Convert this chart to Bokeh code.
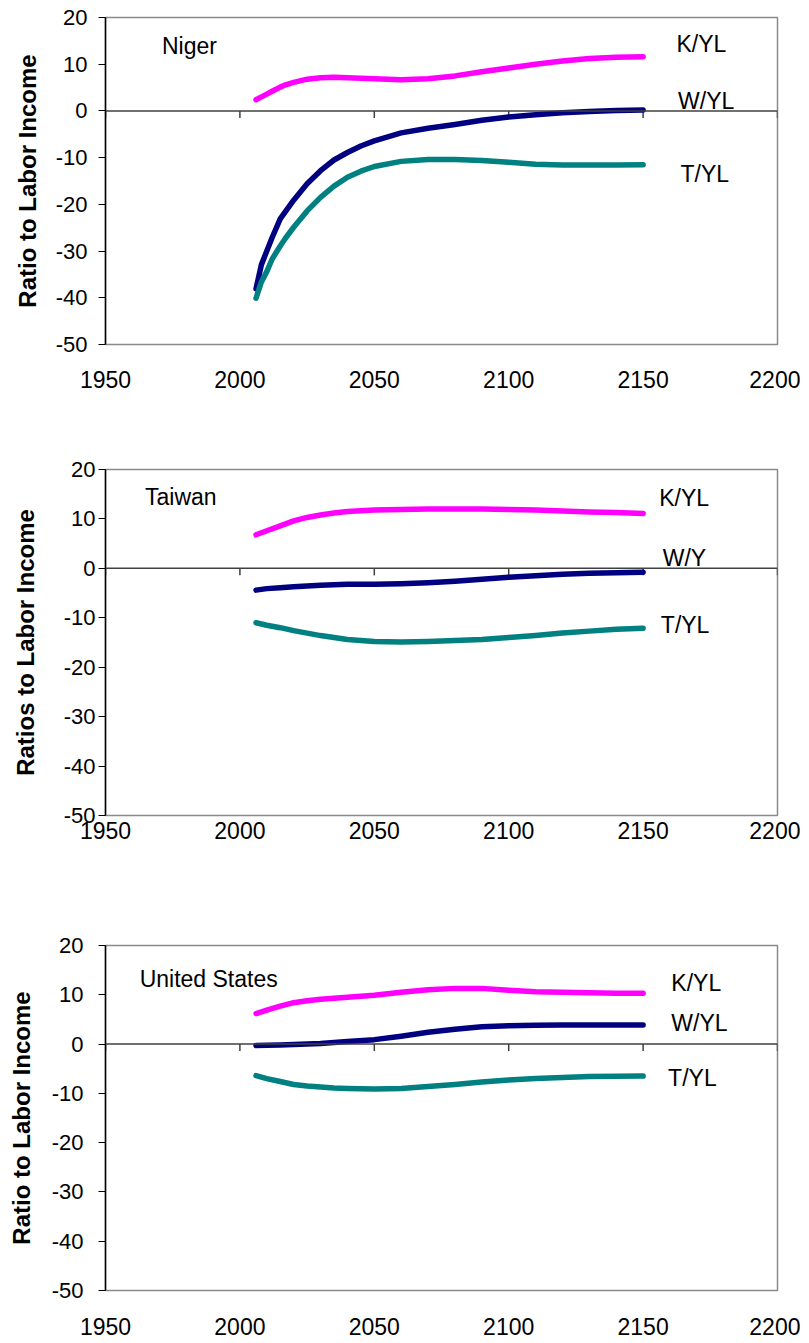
from bokeh.plotting import figure
from bokeh.layouts import column
from bokeh.models import Range1d, FixedTicker, Span, PrintfTickFormatter
from bokeh.core.properties import value
from bokeh.embed import file_html
from bokeh.resources import INLINE

# ---------------- data ----------------
x_ticks = [1950, 2000, 2050, 2100, 2150, 2200]
y_ticks = [-50, -40, -30, -20, -10, 0, 10, 20]

niger_years = [2006, 2008, 2010, 2012, 2015, 2017, 2020, 2025, 2030, 2035, 2040,
               2045, 2050, 2060, 2070, 2080, 2090, 2100, 2110, 2120, 2130, 2140, 2150]
niger_k = [2.4, 3.0, 3.6, 4.2, 5.1, 5.6, 6.1, 6.8, 7.1, 7.2, 7.1,
           7.0, 6.9, 6.7, 6.9, 7.5, 8.4, 9.2, 10.0, 10.7, 11.2, 11.5, 11.6]
niger_w = [-38.1, -32.9, -30.0, -27.1, -23.1, -21.5, -19.1, -15.6, -12.8, -10.5, -8.9,
           -7.5, -6.4, -4.7, -3.7, -2.9, -2.0, -1.3, -0.8, -0.4, -0.1, 0.1, 0.2]
niger_t = [-40.1, -36.6, -34.4, -31.7, -28.9, -27.2, -24.9, -21.4, -18.5, -16.1, -14.2,
           -12.9, -11.9, -10.8, -10.4, -10.4, -10.6, -11.0, -11.4, -11.6, -11.6, -11.6, -11.5]

taiwan_years = [2006, 2010, 2015, 2020, 2025, 2030, 2035, 2040, 2050, 2060,
                2070, 2080, 2090, 2100, 2110, 2120, 2130, 2140, 2150]
taiwan_k = [6.8, 7.6, 8.6, 9.6, 10.3, 10.8, 11.2, 11.5, 11.8, 11.9,
            12.0, 12.0, 12.0, 11.9, 11.8, 11.6, 11.4, 11.3, 11.1]
taiwan_w = [-4.4, -4.1, -3.9, -3.7, -3.55, -3.4, -3.3, -3.2, -3.2, -3.1,
            -2.9, -2.6, -2.2, -1.8, -1.5, -1.2, -1.0, -0.9, -0.8]
taiwan_t = [-11.0, -11.5, -12.0, -12.6, -13.1, -13.6, -14.0, -14.4, -14.8, -14.9,
            -14.8, -14.6, -14.4, -14.0, -13.6, -13.1, -12.7, -12.3, -12.1]

us_years = [2006, 2010, 2015, 2020, 2025, 2030, 2035, 2040, 2050, 2060,
            2070, 2080, 2090, 2100, 2110, 2120, 2130, 2140, 2150]
us_k = [6.2, 6.9, 7.7, 8.4, 8.8, 9.1, 9.3, 9.5, 9.9, 10.5,
        11.0, 11.3, 11.3, 10.9, 10.6, 10.5, 10.4, 10.3, 10.3]
us_w = [-0.3, -0.25, -0.2, -0.1, 0.0, 0.1, 0.3, 0.5, 0.9, 1.6,
        2.4, 3.0, 3.5, 3.7, 3.8, 3.85, 3.85, 3.85, 3.85]
us_t = [-6.4, -7.0, -7.6, -8.2, -8.5, -8.7, -8.9, -9.0, -9.1, -9.0,
        -8.6, -8.2, -7.7, -7.3, -7.0, -6.8, -6.6, -6.55, -6.5]

series_names = ["K/YL", "W/YL", "T/YL"]
taiwan_series_names = ["K/YL", "W/Y", "T/YL"]

# ---------------- styling / layout ----------------
COLORS = ["#FF00FF", "#000080", "#008080"]
FONT = "Liberation Sans"
FIG_W = 800


def make_panel(years, series, names, country, y_title, *, height, border_top,
               frame_h, border_left, frame_right, country_pos, label_pos,
               ytick_standoff, title_standoff, xlab_standoff):
    p = figure(width=FIG_W, height=height, output_backend="svg",
               toolbar_location=None, x_range=Range1d(1950, 2200),
               y_range=Range1d(-50, 20), min_border_left=border_left,
               min_border_right=FIG_W - frame_right,
               min_border_top=border_top,
               min_border_bottom=height - border_top - frame_h)
    p.xgrid.visible = False
    p.ygrid.visible = False
    p.outline_line_color = "#8a8a8a"
    p.outline_line_width = 1.5
    p.background_fill_color = "white"
    p.border_fill_color = "white"

    # x axis (labels at bottom only)
    xa = p.xaxis[0]
    xa.ticker = FixedTicker(ticks=x_ticks)
    xa.formatter = PrintfTickFormatter(format="%d")
    xa.axis_line_color = None
    xa.major_tick_line_color = None
    xa.minor_tick_line_color = None
    xa.major_tick_out = 0
    xa.major_tick_in = 0
    xa.major_label_standoff = xlab_standoff
    xa.major_label_text_font = FONT
    xa.major_label_text_font_size = "23px"
    xa.major_label_text_color = "black"

    ya = p.yaxis[0]
    ya.ticker = FixedTicker(ticks=y_ticks)
    ya.formatter = PrintfTickFormatter(format="%d")
    ya.axis_line_color = "black"
    ya.axis_line_width = 1.5
    ya.major_tick_line_color = "black"
    ya.major_tick_out = 7
    ya.major_tick_in = 0
    ya.minor_tick_line_color = None
    ya.major_label_standoff = ytick_standoff
    ya.major_label_text_font = FONT
    ya.major_label_text_font_size = "22px"
    ya.major_label_text_color = "black"
    ya.axis_label = y_title
    ya.axis_label_text_font = FONT
    ya.axis_label_text_font_style = "bold"
    ya.axis_label_text_font_size = "24px"
    ya.axis_label_text_color = "black"
    ya.axis_label_standoff = title_standoff

    # horizontal axis crossing at zero, with downward ticks
    p.add_layout(Span(location=0, dimension="width", line_color="#404040",
                      line_width=1.5))
    tick_len = 7 * 70.0 / frame_h
    p.segment(x0=x_ticks, y0=[0] * len(x_ticks), x1=x_ticks,
              y1=[-tick_len] * len(x_ticks), line_color="#404040",
              line_width=1.5)

    for vals, color in zip(series, COLORS):
        p.line(years, vals, line_color=color, line_width=5.5, line_cap="round",
               line_join="round")

    p.text(x=[country_pos[0]], y=[country_pos[1]], text=[country],
           text_font=value(FONT), text_font_size="23px", text_align="left",
           text_baseline="middle", text_color="black")
    p.text(x=[lp[0] for lp in label_pos], y=[lp[1] for lp in label_pos],
           text=names, text_font=value(FONT), text_font_size="23px",
           text_align="left", text_baseline="middle", text_color="black")
    return p


p1 = make_panel(niger_years, [niger_k, niger_w, niger_t], series_names,
                "Niger", "Ratio to Labor Income",
                height=440, border_top=17, frame_h=327, border_left=100,
                frame_right=778, country_pos=(1971, 14.0),
                label_pos=[(2162.4, 14.4), (2163.0, 2.2), (2163.9, -13.4)],
                ytick_standoff=11, title_standoff=12, xlab_standoff=26)
p2 = make_panel(taiwan_years, [taiwan_k, taiwan_w, taiwan_t],
                taiwan_series_names, "Taiwan", "Ratios to Labor Income",
                height=430, border_top=29, frame_h=346, border_left=98,
                frame_right=777, country_pos=(1964.7, 14.4),
                label_pos=[(2156.0, 14.2), (2157.3, 2.1), (2156.6, -11.5)],
                ytick_standoff=3, title_standoff=22, xlab_standoff=6)
p3 = make_panel(us_years, [us_k, us_w, us_t], series_names,
                "United States", "Ratio to Labor Income",
                height=472, border_top=75, frame_h=345, border_left=105,
                frame_right=777, country_pos=(1962.7, 13.2),
                label_pos=[(2160.5, 12.4), (2160.5, 4.3), (2159.3, -6.9)],
                ytick_standoff=15, title_standoff=14, xlab_standoff=27)

layout = column(p1, p2, p3, spacing=0)
open("out.html", "w").write(file_html(layout, INLINE))
